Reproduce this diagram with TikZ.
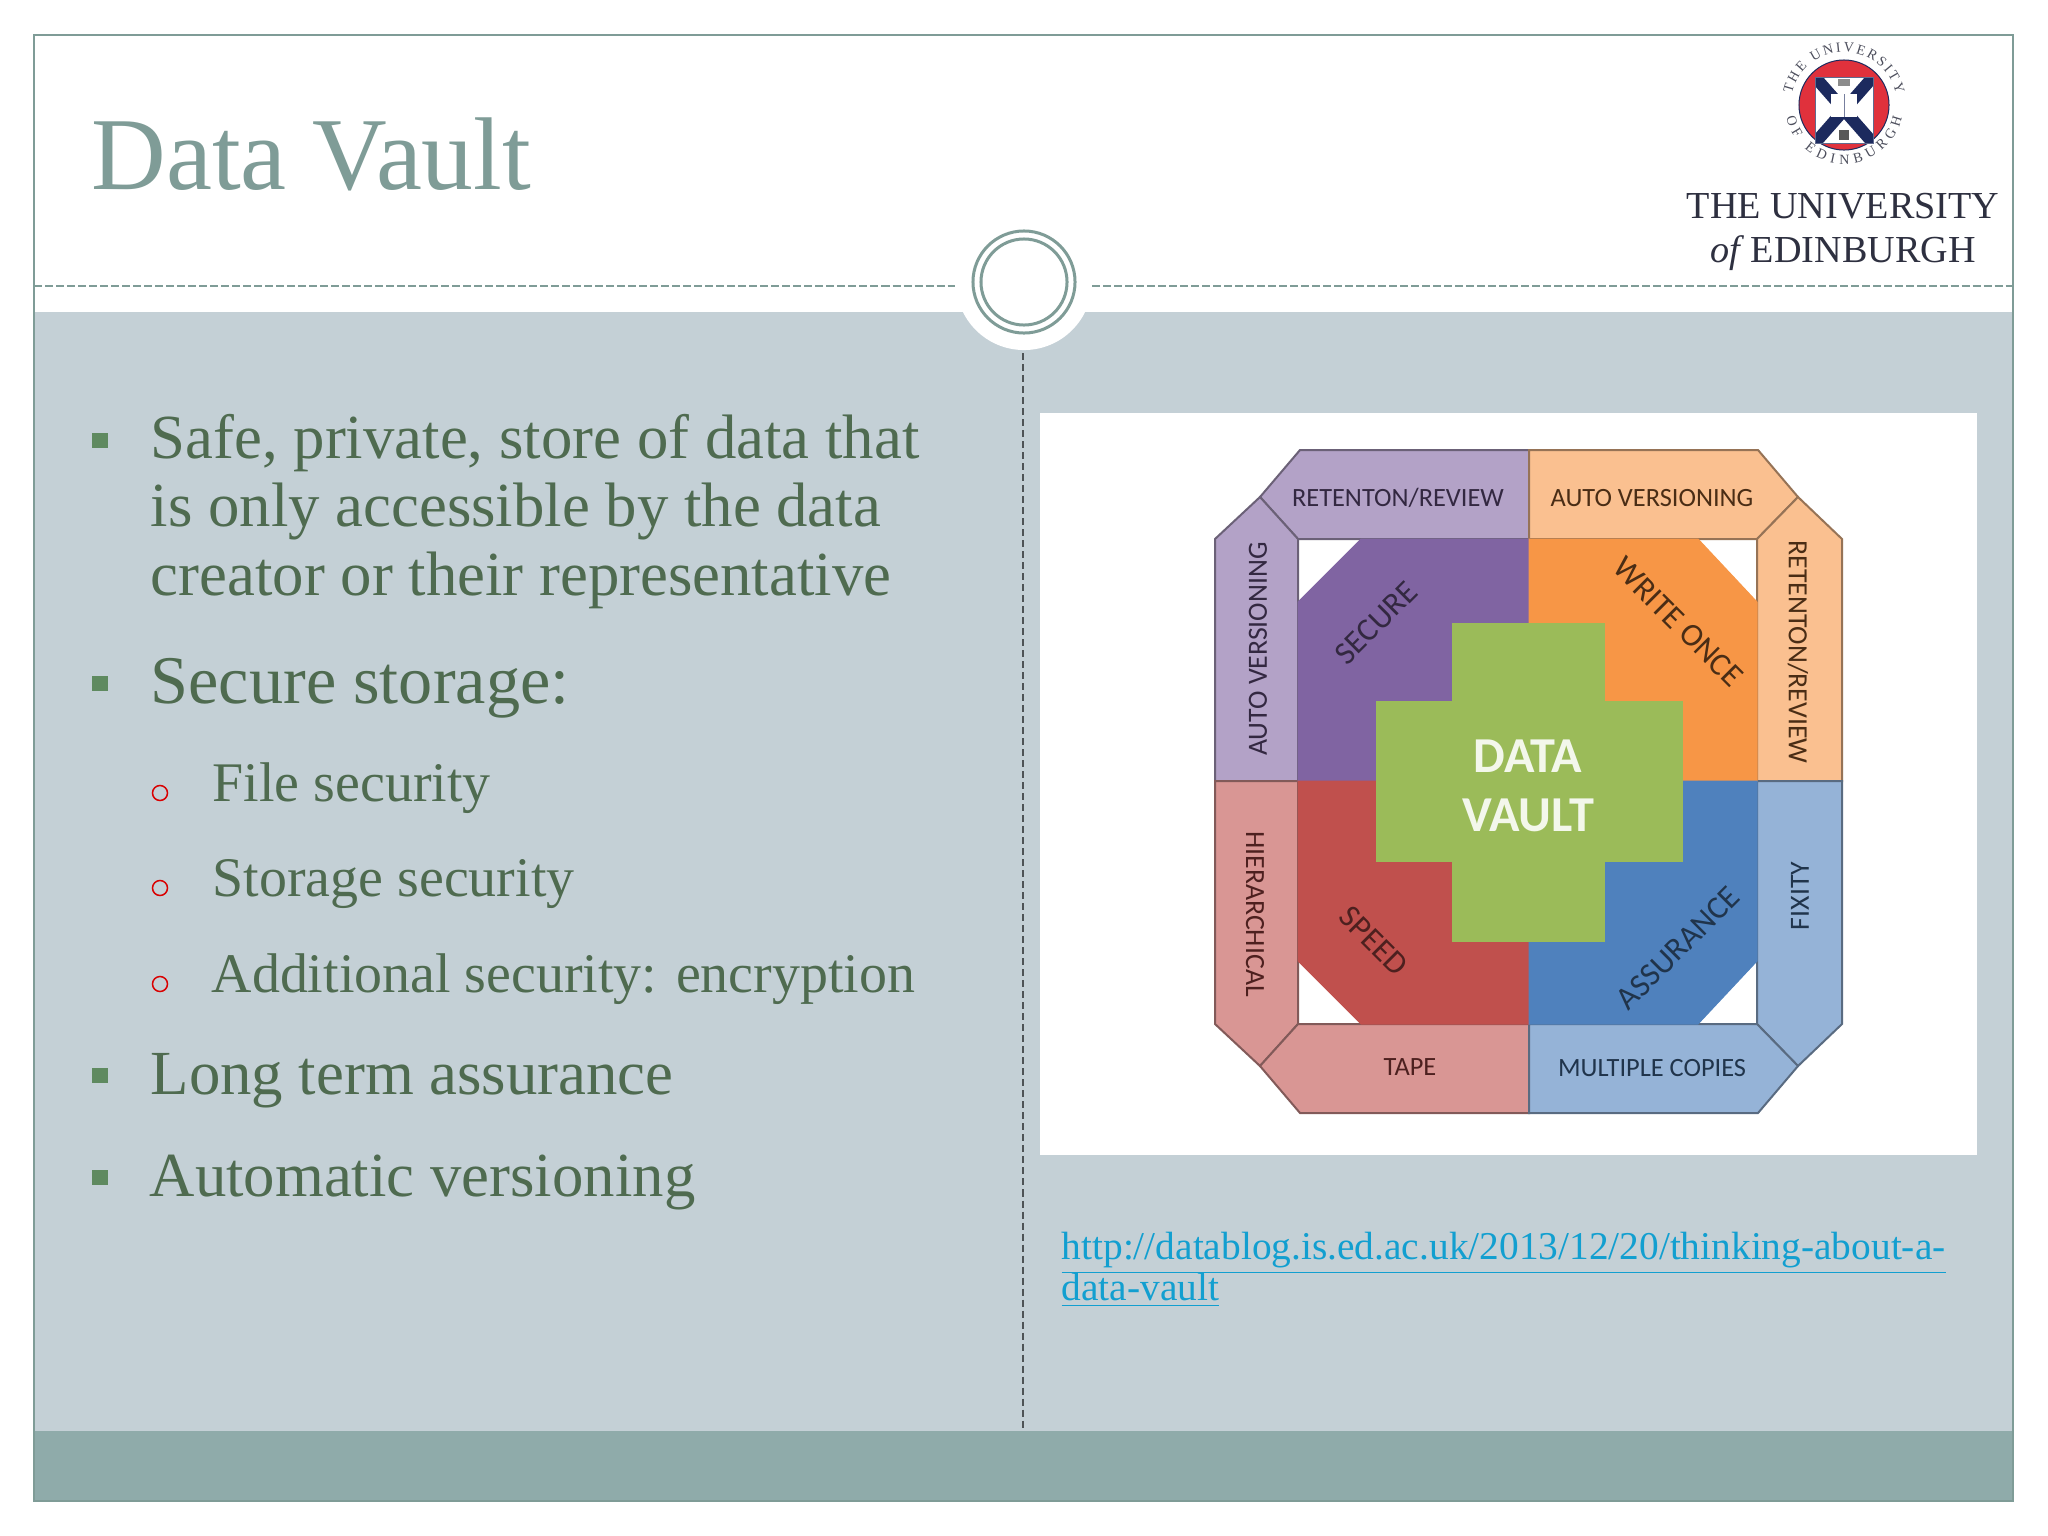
\documentclass[tikz,border=0pt]{standalone}
\usepackage{fontspec}
\setmainfont{Liberation Serif}
\newfontfamily\labelfont{Carlito}
\usetikzlibrary{decorations.text}

\definecolor{framecol}{HTML}{7F9C97}
\definecolor{bodycol}{HTML}{C4D0D6}
\definecolor{footcol}{HTML}{8FABAA}
\definecolor{textcol}{HTML}{4F6B50}
\definecolor{bulletcol}{HTML}{5F8A60}
\definecolor{linkcol}{HTML}{129FD0}
\definecolor{purpleq}{HTML}{8064A2}
\definecolor{purpleb}{HTML}{B3A2C7}
\definecolor{orangeq}{HTML}{F79646}
\definecolor{orangeb}{HTML}{FAC090}
\definecolor{redq}{HTML}{C0504D}
\definecolor{redb}{HTML}{D99694}
\definecolor{blueq}{HTML}{4F81BD}
\definecolor{blueb}{HTML}{95B3D7}
\definecolor{greenq}{HTML}{9BBB59}
\definecolor{navyseal}{HTML}{1C2A5E}
\definecolor{redseal}{HTML}{E0313C}
\definecolor{logotext}{HTML}{2E3040}

\begin{document}
\begin{tikzpicture}[
  x=0.01cm, y=-0.01cm,
  lvlone/.style={anchor=base west, inner sep=0pt, text=textcol, font=\fontsize{17.85}{20}\selectfont},
  lvltwo/.style={anchor=base west, inner sep=0pt, text=textcol, font=\fontsize{15.9}{18}\selectfont},
  urltext/.style={anchor=base west, inner sep=0pt, text=linkcol, font=\fontsize{11.2}{13}\selectfont},
  sqbullet/.style={fill=bulletcol, minimum size=0.15cm, inner sep=0pt},
  ringbullet/.style={draw=red!85!black, line width=0.015cm, circle, minimum size=0.15cm, inner sep=0pt},
  band/.style={fill=#1, draw=#1!60!black, line width=0.02cm},
  quad/.style={fill=#1, draw=#1, line width=0.01cm},
  lab/.style={inner sep=0pt, font=\labelfont\fontsize{7.5}{9}\selectfont},
  sidelab/.style={inner sep=0pt, font=\labelfont\fontsize{7.9}{9}\selectfont},
  quadlab/.style={inner sep=0pt, font=\labelfont\fontsize{9.2}{11}\selectfont},
  ringtext/.style={decorate, decoration={text along path, text align={fit to path},
      text={|\fontsize{4}{5}\selectfont\color{logotext!85!white}|#1}}}
]
\useasboundingbox (0,0) rectangle (2048,1536);
\fill[white] (0,0) rectangle (2048,1536);

% Slide background
\fill[bodycol] (34,312) rectangle (2013,1431);
\fill[footcol] (34,1431) rectangle (2013,1501);
\draw[framecol, line width=0.02cm] (34,35) rectangle (2013,1501);

% Header rule and circle
\draw[framecol, line width=0.015cm, dash pattern=on 0.08cm off 0.03cm] (34,286) -- (955,286);
\draw[framecol, line width=0.015cm, dash pattern=on 0.08cm off 0.03cm] (1092,286) -- (2013,286);
\node[circle, fill=white, minimum size=1.36cm, inner sep=0pt] (halo) at (1024,282) {};
\node[circle, draw=framecol, line width=0.03cm, minimum size=1.02cm, inner sep=0pt] (outerring) at (1024,282) {};
\node[circle, draw=framecol, line width=0.03cm, minimum size=0.86cm, inner sep=0pt] (innerring) at (1024,282) {};
\coordinate (divtop) at (1023,353);
\coordinate (divbot) at (1023,1431);
\draw[black!60!bodycol, line width=0.015cm, dash pattern=on 0.07cm off 0.04cm] (divtop) -- (divbot);

% Title
\node[anchor=base west, inner sep=0pt, text=framecol, font=\fontsize{29.4}{32}\selectfont] (title) at (91,189) {Data Vault};

% Logo
\node[circle, fill=redseal, draw=navyseal, line width=0.01cm, minimum size=0.9cm, inner sep=0pt] (seal) at (1844,105) {};
\begin{scope}
  \clip (1815,77) rectangle (1873,143);
  \fill[white] (1815,77) rectangle (1873,143);
  \draw[navyseal, line width=0.12cm] (1815,77) -- (1873,143);
  \draw[navyseal, line width=0.12cm] (1873,77) -- (1815,143);
\end{scope}
\draw[navyseal!70!white, line width=0.01cm] (1815,77) rectangle (1873,143);
\fill[white] (1831,94) rectangle (1857,117);
\draw[navyseal!60!white, line width=0.01cm] (1844,94) -- (1844,117);
\fill[black!45] (1838,79) rectangle (1850,86);
\fill[black!65] (1839,130) rectangle (1849,140);
\begin{scope}[shift={(1844,105)}, x=1cm, y=1cm]
  \path[ringtext={THE UNIVERSITY}] (168:0.53) arc[start angle=168, end angle=12, radius=0.53cm];
  \path[ringtext={OF EDINBURGH}] (192:0.59) arc[start angle=192, end angle=348, radius=0.59cm];
\end{scope}
\node[inner sep=0pt, anchor=base, text=logotext, font=\fontsize{10.85}{12}\selectfont] (logoa) at (1843,218) {THE UNIVERSITY};
\node[inner sep=0pt, anchor=base, text=logotext, font=\fontsize{10.85}{12}\selectfont] (logob) at (1843,262) {\textit{of}\,EDINBURGH};

% Left column
\node[sqbullet] (b1) at (100,440) {};
\node[lvlone] (t1a) at (150,458) {Safe, private, store of data that};
\node[lvlone] (t1b) at (150,526.5) {is only accessible by the data};
\node[lvlone] (t1c) at (150,595) {creator or their representative};
\node[sqbullet] (b2) at (100,683) {};
\node[lvlone, font=\fontsize{19.4}{22}\selectfont] (t2) at (150,703) {Secure storage:};
\node[ringbullet] (b2a) at (160,793) {};
\node[lvltwo] (t2a) at (212,801) {File security};
\node[ringbullet] (b2b) at (160,888) {};
\node[lvltwo] (t2b) at (212,896) {Storage security};
\node[ringbullet] (b2c) at (160,984) {};
\node[lvltwo] (t2c) at (211,992) {Additional security: encryption};
\node[sqbullet] (b3) at (100,1075) {};
\node[lvlone] (t3) at (150,1094) {Long term assurance};
\node[sqbullet] (b4) at (100,1177) {};
\node[lvlone] (t4) at (149,1196) {Automatic versioning};

% Picture on the right
\fill[white] (1040,413) rectangle (1977,1155);

% Outer bands
\draw[band=purpleb] (1260,497) -- (1300,450) -- (1529,450) -- (1529,539) -- (1298,539) -- cycle;
\draw[band=purpleb] (1215,539) -- (1260,497) -- (1298,539) -- (1298,781) -- (1215,781) -- cycle;
\draw[band=orangeb] (1529,450) -- (1758,450) -- (1798,497) -- (1757,539) -- (1529,539) -- cycle;
\draw[band=orangeb] (1798,497) -- (1842,539) -- (1842,781) -- (1757,781) -- (1757,539) -- cycle;
\draw[band=redb] (1215,781) -- (1298,781) -- (1298,1024) -- (1260,1066) -- (1215,1024) -- cycle;
\draw[band=redb] (1298,1024) -- (1529,1024) -- (1529,1113) -- (1300,1113) -- (1260,1066) -- cycle;
\draw[band=blueb] (1757,781) -- (1842,781) -- (1842,1024) -- (1798,1066) -- (1757,1024) -- cycle;
\draw[band=blueb] (1529,1024) -- (1757,1024) -- (1798,1066) -- (1758,1113) -- (1529,1113) -- cycle;

% Inner quarters
\draw[quad=purpleq] (1298,602) -- (1361,539) -- (1529,539) -- (1529,781) -- (1298,781) -- cycle;
\draw[quad=orangeq] (1529,539) -- (1698,539) -- (1757,602) -- (1757,781) -- (1529,781) -- cycle;
\draw[quad=redq] (1298,781) -- (1529,781) -- (1529,1024) -- (1361,1024) -- (1298,961) -- cycle;
\draw[quad=blueq] (1529,781) -- (1757,781) -- (1757,961) -- (1698,1024) -- (1529,1024) -- cycle;

% Cross
\draw[quad=greenq] (1452,623) -- (1604,623) -- (1604,701) -- (1682,701) -- (1682,861) -- (1604,861)
  -- (1604,941) -- (1452,941) -- (1452,861) -- (1376,861) -- (1376,701) -- (1452,701) -- cycle;
\node[inner sep=0pt, text=greenq!12!white, font=\labelfont\bfseries\fontsize{14.3}{16}\selectfont] (data) at (1528,756) {DATA};
\node[inner sep=0pt, text=greenq!12!white, font=\labelfont\bfseries\fontsize{14.3}{16}\selectfont] (vault) at (1528,815) {VAULT};

% Band labels
\node[lab, text=purpleq!40!black] (l1) at (1398,498) {RETENTON/REVIEW};
\node[lab, text=orangeq!30!black] (l2) at (1652,498) {AUTO VERSIONING};
\node[sidelab, text=purpleq!40!black, rotate=90] (l3) at (1258,649) {AUTO VERSIONING};
\node[sidelab, text=orangeq!30!black, rotate=-90] (l4) at (1798,652) {RETENTON/REVIEW};
\node[sidelab, text=redq!40!black, rotate=-90] (l5) at (1255,914) {HIERARCHICAL};
\node[sidelab, text=blueq!40!black, rotate=90] (l6) at (1800,896) {FIXITY};
\node[lab, text=redq!40!black] (l7) at (1410,1067) {TAPE};
\node[lab, text=blueq!40!black] (l8) at (1652,1068) {MULTIPLE COPIES};

% Quarter labels
\node[quadlab, text=purpleq!40!black, rotate=45] (q1) at (1376,623) {SECURE};
\node[quadlab, text=orangeq!30!black, rotate=-45] (q2) at (1678,622) {WRITE ONCE};
\node[quadlab, text=redq!40!black, rotate=-45] (q3) at (1374,941) {SPEED};
\node[quadlab, text=blueq!40!black, rotate=45] (q4) at (1678,948) {ASSURANCE};

% Link
\node[urltext] (url1) at (1061,1259) {\underline{http://datablog.is.ed.ac.uk/2013/12/20/thinking-about-a-}};
\node[urltext] (url2) at (1061,1300) {\underline{data-vault}};
\end{tikzpicture}
\end{document}
